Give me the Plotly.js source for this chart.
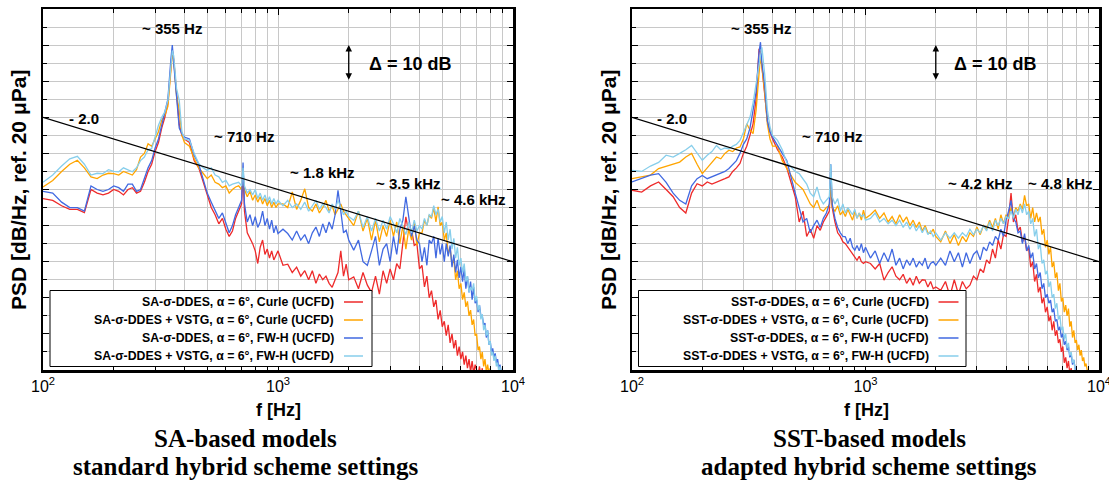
<!DOCTYPE html>
<html><head><meta charset="utf-8">
<script src="https://cdn.plot.ly/plotly-3.0.1.min.js"></script>
<style>html,body{margin:0;padding:0;background:#fff}#chart{width:1109px;height:485px}</style>
</head><body><div id="chart"></div>
<script>
// Frequency grid [Hz]
const freq = [
100,110,120,130,140,150,160,170,180,190,200,210,220,230,240,250,260,270,280,290,300,310,320,330,340,
350,355,360,370,380,390,400,
420,440,460,480,500,520,540,560,580,600,620,640,660,680,700,
710,720,740,760,780,800,820,840,860,880,900,920,940,960,980,1000,
1050,1100,1150,1200,1250,1300,1350,1400,1450,1500,1550,1600,1650,1700,1750,1800,1850,1900,1950,2000,
2100,2200,2300,2400,2500,2600,2700,2800,2900,3000,
3100,3200,3300,3400,3500,3600,3700,3800,3900,4000,
4100,4200,4300,4400,4500,4600,4700,4800,4900,5000,
5100,5200,5300,5400,5500,5600,5700,5800,5900,6000,
6100,6200,6300,6400,6500,6600,6700,6800,6900,7000,
7100,7200,7300,7400,7500,7600,7700,7800,7900,8000,
8100,8200,8300,8400,8500,8600,8700,8800,8900,9000,
9100,9200,9300,9400,9500,9600,9700,9800,9900,10000];

// ---- Left panel: SA-based models (PSD, dB/Hz) ----
const saCurle = [
47.5,47,45.5,44.5,44.5,43.6,50,49,48.5,49,50,49.5,48.5,50,50.5,49,49.5,52,55,57,60.5,63,67,70,74,
84,88.5,86,77,68,65,64,
63,58,56,52,48,45,43,40.5,42,39,37,38.5,42,44,46,
55,44,38,36.5,35,33,29.5,34,36,32,33.5,31,33,30.5,32,33,
29,29.3,27,28.5,26,27.5,25,27.5,24,26.6,25,26,24,22.9,25,27,33,26,29.3,25,
25.8,22.5,27,23.5,21.5,26,21,27.5,24,28,
25,29.5,28,35,42.4,38,39,34.5,35,28,
29,23,26,20,22,17.5,19.4,14,16.5,12,
13.5,9.5,12.5,7.5,10,6,8.3,4,6.5,3,
5,1.5,4,0.5,3,-0.5,2.5,-1,1.5,0,
-1.5,1,-2,0.5,-4];
const saVstgCurle = [
50.7,52.5,55,57,58.1,56,53.5,53,54,54.5,54.4,54,55,54.4,54,55.5,59,60,62.7,62,64,66,69.2,70.5,73,
82,87.5,86,76,72,65,63,
62,58.5,56,54.5,53,54,52,51.5,50.5,51,49,50,50.7,51,50,
55,50,48,49.5,47,48.5,46.5,48,46,47.5,45.5,47,45,46.5,45,46,
46,45,49.3,44.5,47,50.2,45,44,46,43.5,45,47,44,45.5,43,44.5,46,44,43,42,
40,44,38.5,42,36,41.5,35.5,40,37,41.5,
37,41,35,40,33.5,39,36,41,34.5,38,
38,41.5,40,43,42,45,41,45.2,40,41,
36,38,32,34,29,31,25,27.5,22.5,24,
19.5,21.5,17.5,19,15,16.6,12.5,14,9.5,10,
5.5,6.5,3,5,1,3,-0.5,1.5,-1,0.5,
-2];
const saFwh = [
49.5,49,46.5,45,45,44,51,50,49.5,50,51,50.5,49.5,51.5,51.5,49.5,50,53,56,58,61.5,64,68,71,75,
86,90,85,76,67,65.5,64.5,
64,59.5,57,53,49,46.5,44,42,43.5,40.5,38,40,43,45,47,
57.5,46,41,43,40,42.5,39.5,41,44,40,42,39,41.5,38,40,37.8,
39,37.8,36,38.5,36,37.5,35,38,39.6,37,40.5,38,41,39,43,49.8,44,38,38.7,36,
33.2,36,30,29,33,37,29,33.5,35,30,
37,32,39,41.5,48,43,37,40,36,35,
30,34,29,36,35,37,31,36.5,32,35,
30,35,31.5,34.5,28.5,32,27,30.5,25.5,28.6,
24.5,28,22.5,26,21.5,24.5,19.5,23,18.5,19.5,
16,18,15,15,12.5,13,9,11,7,8,
5,6,3.5,4.6,2,3,0.5,1.5,-0.5,-2];
const saVstgFwh = [
52,54,56.5,58.5,59.2,57,54,54.5,54.4,55.5,55,54.9,56,55.5,54.9,56,58,59,61,61.3,65,67.8,70,71.5,74.7,
84,88.5,87,78,74.7,66,64,
63.6,60,57.2,56,55.3,56,54,53.5,52,52.5,51,51.5,51.7,52,51,
56,51,49,50,48.5,50,47.5,49,47,48.5,46.5,48,46,47.5,46,47,
45.5,47,45,46,44.5,46.5,44,45.5,47,44.5,46,45,43.5,46,44.5,47,45,43,44,42.5,
41.5,44,39.5,42.5,38.5,42,38.5,41.5,39,42.5,
40.5,38,42,39.5,37.5,41,38,41.5,38.5,40,
39,42,40,43,42.5,45.5,43,44.5,41,42.5,
38,41,36,39,33.5,36.5,31,34,29,31,
27,29.5,24.5,26,21.5,23,22,24,19,20.5,
16.5,18,14,15.5,11,12.5,9.5,11,7,8,
4,5,2.5,4,1,2,-0.5,1,-1,-2];

// ---- Right panel: SST-based models ----
const sstCurle = [
49.8,49.3,51,52.1,50,48,45,43.5,49,51.6,51,52.1,51.5,52.1,52.5,53,53.5,55,56,57.2,60,62,65,68.2,75,
89,88,84,78,69,66,64,
61,59,56,52,48,41,44,37,39,36.5,40,38.7,41,42.5,44,
55,45,41,38,37,35.5,35,34,33,32.3,31,30.4,31.5,30,29.5,30,
29.5,28,29.5,24.9,27,28.6,26,25,26.5,24,25.5,23.5,26,24,25,24.9,23,24.5,22.5,23,
22.1,24.5,20.5,25,21,24.5,22.5,23.5,26,25,
28,27,30.5,29.5,33.5,31,36,33.5,37.5,37,
42,49,41,43,38.5,39.6,35.5,37,33,34,
28.5,30,24.5,26.5,21.5,23,18.5,20,16,17.5,
13.5,15,11,13.5,9.5,11,7.5,8.5,5,6.5,
2,3.5,0.5,2.5,-1,0.5,-2];
const sstVstgCurle = [
53,53.5,54,55.8,56.5,57,57.6,59,60,57,54.4,56,57.5,59,58.5,60,60.9,60.5,61.5,61.8,64,68.2,66.5,65.5,72,
84,87,84,77,68,64,62,
62,58,56,54,52,51,50,48,46,45,47,44.5,44,45,45.5,
52,45,44,45.5,43,44,42.5,44.5,43,41.5,44,42,43.5,41.5,44.3,42,
43,44.3,42,43.5,41,42.5,40.5,43,41,42.4,40,41.5,39.5,41,38.5,40,38,37.8,39,37,
35.5,38.5,35,37.5,34.5,37,35.5,38,37,39.6,
37.5,40,39,41.5,39.5,42,39,43,40.5,43,
42,45,42.5,45,44,46,44.5,48.4,45.5,46,
42,45,41,43.5,41,42.4,37.5,39,34,36,
32,34,28.5,30,25.5,27,22,24,19,20,
16,18,15,17,12,13.5,9,11,7.5,8.3,
5.5,7,4,5.5,2.5,3.5,1,1.8,0,-1,
-2];
const sstFwh = [
52.1,53,54,54.4,52,49,47,46,51,53,53.9,53,53.5,54,54.5,55,55.8,57,58,60,62.5,64,67,71.9,77,
88,90.8,85,79,69,66,64.5,
62,60,58,53,49,45,41,42,38,40,41.5,39.5,42,43.5,46,
57,46,42,39.5,38,37,36.9,35,36.5,34,33.2,34.5,33,35,32.5,34,
31,33,29.5,32.5,30,33.5,29,31,28,30.5,29,31,28.5,30,29,31,28,29.5,30,29,
31,29,33,30,32.5,28.5,32.5,29.5,32,33,
30.5,34,33,35.5,34.5,37,36,39,37,41.5,
44,47,42,41,38,38.5,35,37.8,33,34.5,
31,32.5,28,29.5,25.5,27,22.5,24,20,21,
18.5,19.4,16,17,13.5,14,11,12,9,10.1,
7,8,5.5,6.5,3.5,4.5,1.5,2.8,0.5,-1.5];
const sstVstgFwh = [
55.3,55,56.5,57.5,59.5,59,60,61,62.2,60,58.1,59.5,60.5,62.2,61,61.5,61.3,62,62.5,63.6,66,68.2,70,74,79,
85,87,89.4,82,72,67.3,65,
63.6,61,57.5,56.2,55,54.4,53,51.5,49,48,50.7,47.5,46,47,48,
57,48,46,47.5,44,46,43.5,45,44,43,44.5,42,43.5,42.5,43,41.5,
42,43.5,41,42,40.5,41.5,40,41.5,39.5,41,39,40.5,38.5,40,38,39.5,37.5,38.5,37,38,
36,38,36.5,38,36.5,38,37,39,37.5,39,
38,40,38.5,41,38.5,41.5,40,42,40.5,42.5,
42,44,42,44.5,43,45.5,43.5,46,43,44,
40.5,42,37,39,33.5,35,29.5,30.5,26.5,27.5,
23,24.5,20,21,17,18.5,14,15,11,12,
8.5,10.1,6,7.5,4,5,2,2.8,0,-1];

// -2.0 slope reference line
const slopeF = [100, 10000];
const slopeDb = [70, 30];

const seriesColors = ['#ee2a2a', '#ffa500', '#4169e1', '#87ceeb'];
const namesLeft = ['SA-σ-DDES, α = 6°, Curle (UCFD)', 'SA-σ-DDES + VSTG, α = 6°, Curle (UCFD)',
  'SA-σ-DDES, α = 6°, FW-H (UCFD)', 'SA-σ-DDES + VSTG, α = 6°, FW-H (UCFD)'];
const namesRight = ['SST-σ-DDES, α = 6°, Curle (UCFD)', 'SST-σ-DDES + VSTG, α = 6°, Curle (UCFD)',
  'SST-σ-DDES, α = 6°, FW-H (UCFD)', 'SST-σ-DDES + VSTG, α = 6°, FW-H (UCFD)'];
const leftSeries = [saCurle, saVstgCurle, saFwh, saVstgFwh];
const rightSeries = [sstCurle, sstVstgCurle, sstFwh, sstVstgFwh];

const W = 1109, PT = 9, PB = 370;
const X = p => p / W;
const Y = p => (PB - p) / (PB - PT);

const traces = [];
function addPanel(series, names, xa, ya) {
  series.forEach((s, i) => traces.push({
    x: freq.slice(0, s.length), y: s, type: 'scatter', mode: 'lines', name: names[i],
    line: {color: seriesColors[i], width: 1.3}, xaxis: xa, yaxis: ya, showlegend: false, hoverinfo: 'skip'
  }));
  traces.push({x: slopeF, y: slopeDb, type: 'scatter', mode: 'lines', line: {color: '#000', width: 1.2},
    xaxis: xa, yaxis: ya, showlegend: false, hoverinfo: 'skip'});
}
addPanel(leftSeries, namesLeft, 'x', 'y');
addPanel(rightSeries, namesRight, 'x2', 'y2');

const grid = '#c8c8c8';
const minorF = [200,300,400,500,600,700,800,900,2000,3000,4000,5000,6000,7000,8000,9000];
function xAxis(domain, anchor) {
  return {type: 'log', range: [2, 4], domain, anchor, tickmode: 'array',
    tickvals: [100, 1000, 10000], ticktext: ['10<sup>2</sup>', '10<sup>3</sup>', '10<sup>4</sup>'],
    ticklabeloverflow: 'allow',
    ticks: 'inside', ticklen: 6, tickcolor: '#000', showline: true, linecolor: '#000', linewidth: 2.5,
    mirror: 'ticks', showgrid: true, gridcolor: grid, gridwidth: 1, zeroline: false,
    tickfont: {family: 'Liberation Sans, Arial, sans-serif', size: 16, color: '#000'},
    minor: {tickmode: 'array', tickvals: minorF, ticks: 'inside', ticklen: 4, tickcolor: '#000',
      showgrid: true, gridcolor: grid, gridwidth: 1}};
}
function yAxis(anchor) {
  return {range: [0, 100], domain: [0, 1], anchor, showticklabels: false, tickmode: 'linear', tick0: 0,
    dtick: 10, ticks: 'inside', ticklen: 6, tickcolor: '#000', showline: true, linecolor: '#000',
    linewidth: 2.5, mirror: 'ticks', showgrid: true, gridcolor: grid, zeroline: false,
    minor: {tick0: 0, dtick: 5, ticks: 'inside', ticklen: 4, tickcolor: '#000', showgrid: true, gridcolor: grid}};
}

const bold = 'Liberation Sans, Arial, sans-serif';
const annotations = [];
const shapes = [];
function txt(xref, yref, x, y, text, size, opts) {
  annotations.push(Object.assign({xref, yref, x, y, text: '<b>' + text + '</b>', showarrow: false,
    font: {family: bold, size, color: '#000'}, xanchor: 'center', yanchor: 'middle'}, opts || {}));
}
const L = Math.log10;
function panelLabels(xr, yr, labels) {
  labels.forEach(l => txt(xr, yr, L(l[0]), l[1], l[2], l[3] || 15, l[4]));
  annotations.push({xref: xr, yref: yr, axref: xr, ayref: yr, x: L(2000), y: 90, ax: L(2000), ay: 80,
    text: '', showarrow: true, arrowhead: 2, arrowside: 'end+start', arrowsize: 1, arrowwidth: 1.3, arrowcolor: '#000'});
}
panelLabels('x', 'y', [
  [355, 94.6, '~ 355 Hz'], [150, 69.6, '- 2.0'], [717, 64.7, '~ 710 Hz'], [1540, 54.7, '~ 1.8 kHz'],
  [3580, 51.8, '~ 3.5 kHz'], [6780, 47.3, '~ 4.6 kHz'], [2400, 84.8, 'Δ = 10 dB', 18, {xanchor: 'left'}]]);
panelLabels('x2', 'y2', [
  [357, 94.6, '~ 355 Hz'], [148, 69.6, '- 2.0'], [719, 64.7, '~ 710 Hz'],
  [3110, 51.8, '~ 4.2 kHz'], [6830, 51.8, '~ 4.8 kHz'], [2350, 84.8, 'Δ = 10 dB', 18, {xanchor: 'left'}]]);

// custom legends (symbol on the right of the text)
function legend(names, boxX0, boxX1, textRight, lineX0, lineX1) {
  shapes.push({type: 'rect', xref: 'paper', yref: 'paper', x0: X(boxX0), x1: X(boxX1), y0: Y(366.5), y1: Y(290.5),
    line: {color: '#000', width: 1}, fillcolor: '#fff', layer: 'above'});
  const rows = [302, 320, 338, 356];
  names.forEach((n, i) => {
    shapes.push({type: 'line', xref: 'paper', yref: 'paper', x0: X(lineX0), x1: X(lineX1), y0: Y(rows[i]), y1: Y(rows[i]),
      line: {color: seriesColors[i], width: 1.5}, layer: 'above'});
    txt('paper', 'paper', X(textRight), Y(rows[i]), n, 12.3, {xanchor: 'right'});
  });
}
legend(namesLeft, 50, 372, 336, 344, 363);
legend(namesRight, 638.5, 966, 931, 938.5, 958.5);

// axis titles and captions
[18, 608].forEach(p => txt('paper', 'paper', X(p), Y(190), 'PSD [dB/Hz, ref. 20 μPa]', 21, {textangle: -90}));
txt('paper', 'paper', X(278), Y(410), 'f [Hz]', 18);
txt('paper', 'paper', X(866), Y(410), 'f [Hz]', 18);
const serif = 'Liberation Serif, Times New Roman, serif';
[[245, 'SA-based models', 'standard hybrid scheme settings'], [869, 'SST-based models', 'adapted hybrid scheme settings']]
  .forEach(c => {
    annotations.push({xref: 'paper', yref: 'paper', x: X(c[0]), y: Y(438), text: '<b>' + c[1] + '</b>', showarrow: false,
      font: {family: serif, size: 25, color: '#000'}, xanchor: 'center', yanchor: 'middle'});
    annotations.push({xref: 'paper', yref: 'paper', x: X(c[0]), y: Y(467), text: '<b>' + c[2] + '</b>', showarrow: false,
      font: {family: serif, size: 25, color: '#000'}, xanchor: 'center', yanchor: 'middle'});
  });

const layout = {
  width: 1109, height: 485, margin: {l: 0, r: 0, t: PT, b: 485 - PB}, paper_bgcolor: '#fff', plot_bgcolor: '#fff',
  xaxis: xAxis([43 / W, 513 / W], 'y'), yaxis: yAxis('x'),
  xaxis2: xAxis([632 / W, 1099 / W], 'y2'), yaxis2: yAxis('x2'),
  annotations, shapes, showlegend: false
};
Plotly.newPlot('chart', traces, layout, {staticPlot: true, displayModeBar: false});
</script></body></html>
